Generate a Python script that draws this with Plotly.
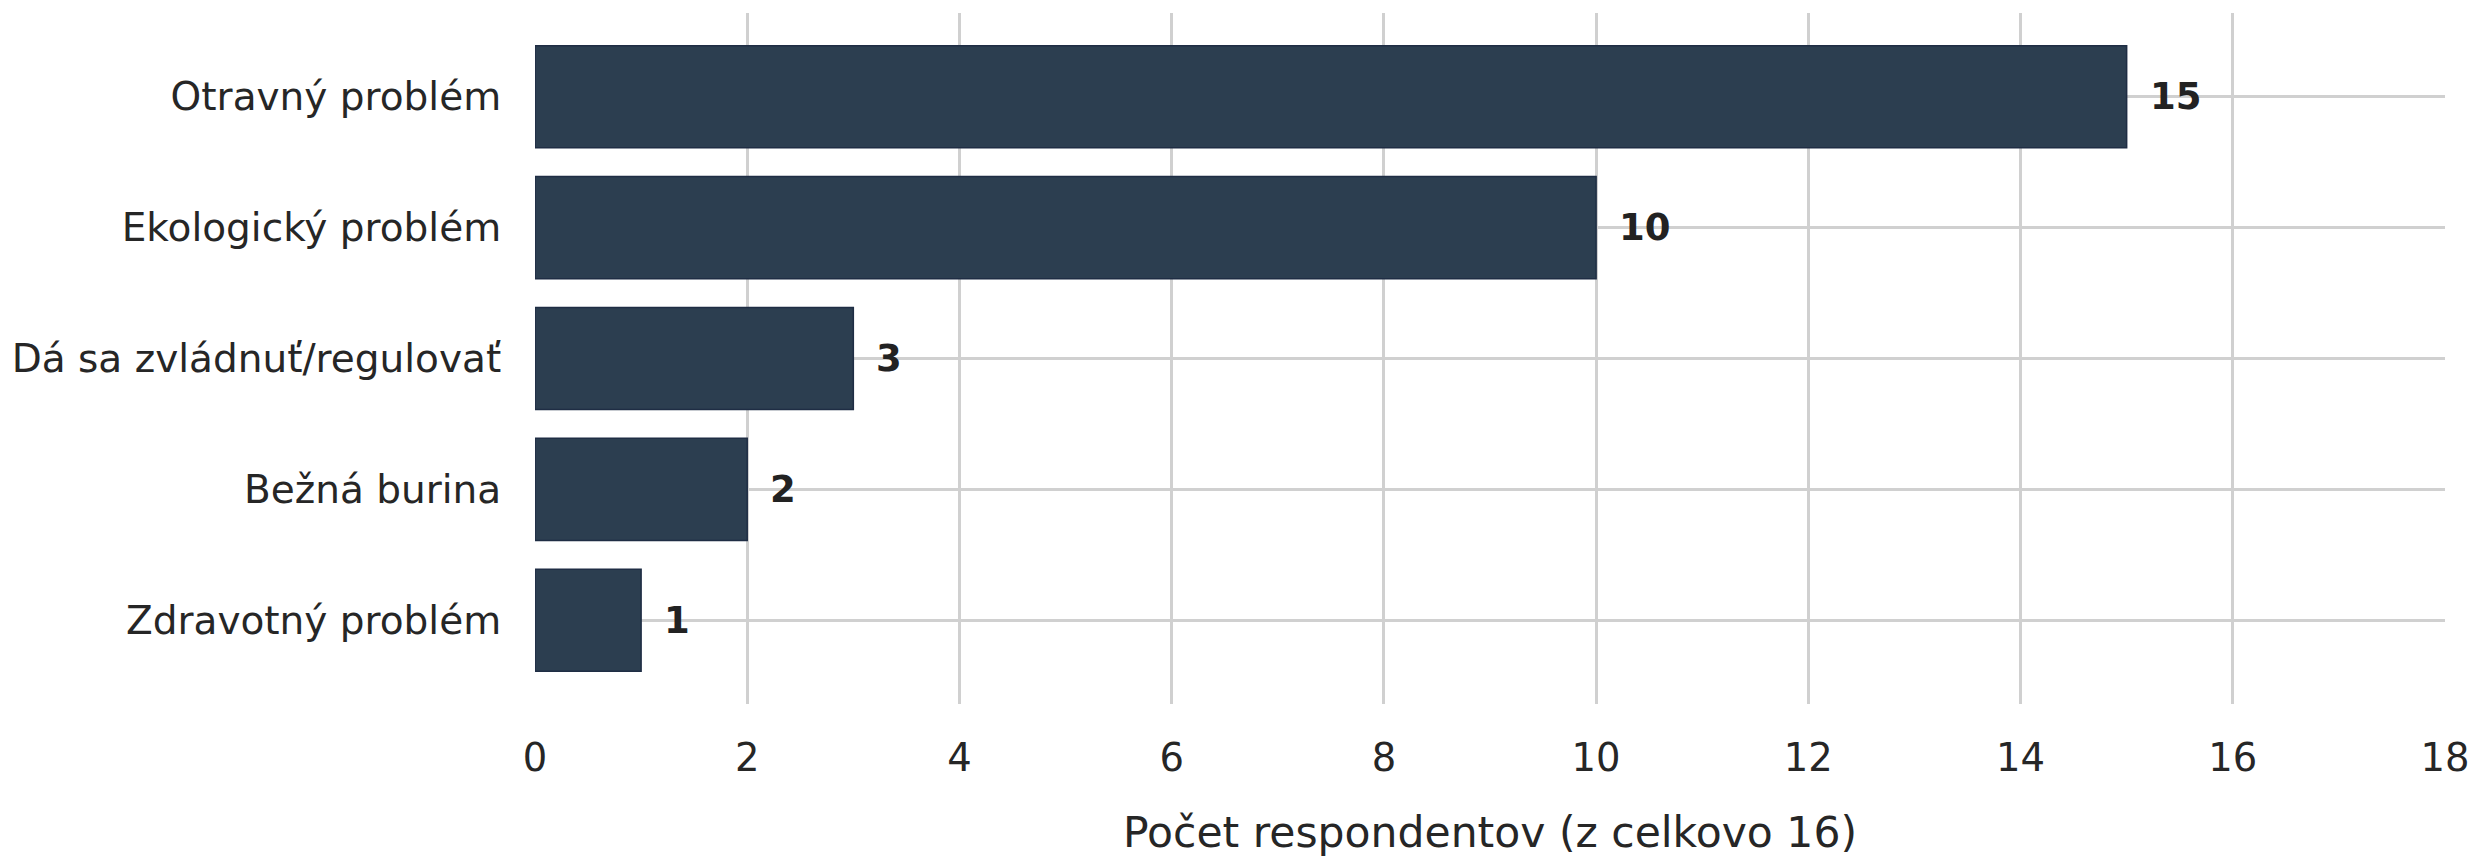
import plotly.graph_objects as go

categories = ["Zdravotný problém", "Bežná burina", "Dá sa zvládnuť/regulovať",
              "Ekologický problém", "Otravný problém"]
counts = [1, 2, 3, 10, 15]
x_ticks = [0, 2, 4, 6, 8, 10, 12, 14, 16, 18]

BAR = "#2c3e50"
GRID = "#d0d0d0"
FONT = "DejaVu Sans"

fig = go.Figure()
fig.add_trace(go.Bar(
    x=counts, y=categories, orientation="h",
    marker=dict(color=BAR, line=dict(color="#1f2d44", width=1.5)),
    width=0.78, hoverinfo="skip",
))

for c, v in zip(categories, counts):
    fig.add_annotation(x=v, y=c, text=f"<b>{v}</b>", showarrow=False,
                       xanchor="left", yanchor="middle", xshift=21,
                       font=dict(family=FONT, size=37, color="#222222"))

# page body has an 8px margin; compensate
fig.update_layout(
    width=2473, height=849,
    margin=dict(l=527, r=36, t=5, b=153),
    paper_bgcolor="white", plot_bgcolor="white",
    showlegend=False,
    font=dict(family=FONT, color="#262626"),
    xaxis=dict(
        range=[0, 18], tickvals=x_ticks, ticktext=[str(t) for t in x_ticks],
        showgrid=True, gridcolor=GRID, gridwidth=2.5, zeroline=False,
        showline=False, ticks="outside", ticklen=20, tickcolor="rgba(0,0,0,0)",
        tickfont=dict(family=FONT, size=38.5, color="#262626"),
        automargin=False,
        title=dict(text="Počet respondentov (z celkovo 16)", standoff=52,
                   font=dict(family=FONT, size=42.5, color="#262626")),
    ),
    yaxis=dict(
        categoryorder="array", categoryarray=categories, range=[-0.64, 4.64],
        showgrid=True, gridcolor=GRID, gridwidth=2.5, zeroline=False,
        showline=False, ticks="outside", ticklen=25, tickcolor="rgba(0,0,0,0)",
        tickfont=dict(family=FONT, size=39, color="#262626"),
        automargin=False,
    ),
    bargap=0.2,
)

fig.write_html("out.html")
